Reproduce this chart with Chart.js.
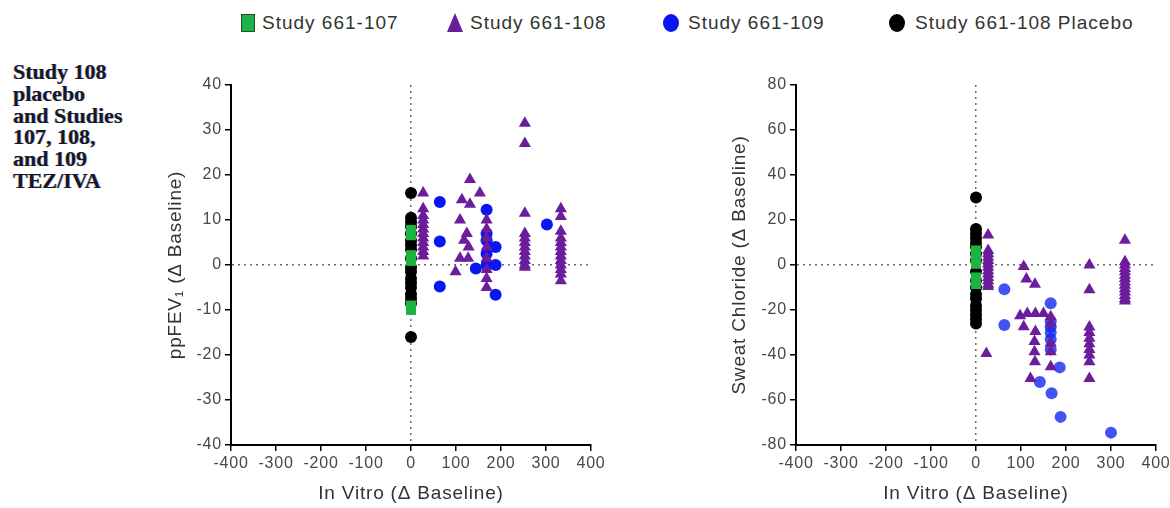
<!DOCTYPE html>
<html>
<head>
<meta charset="utf-8">
<script src="https://cdn.jsdelivr.net/npm/chart.js@4.4.0/dist/chart.umd.min.js"></script>
<style>
  html, body { margin: 0; padding: 0; background: #fff; }
  body { position: relative; width: 1170px; height: 508px; overflow: hidden;
         font-family: "Liberation Sans", Arial, sans-serif; }
  #note { position: absolute; left: 13px; top: 61px; margin: 0;
          font: bold 22px/21.8px "Liberation Serif", "Times New Roman", serif; color: #15152b;
          text-shadow: -0.7px 0 rgba(200,160,0,.45), 0.7px 0 rgba(0,70,230,.45); }
  .lg-text { position: absolute; top: 12px; font-size: 19px; line-height: 22px;
             letter-spacing: 1px; color: #333; white-space: nowrap; }
  .lg-mark { position: absolute; }
  canvas { position: absolute; }
</style>
</head>
<body>
<div id="note">Study 108<br>placebo<br>and Studies<br>107, 108,<br>and 109<br>TEZ/IVA</div>

<div class="lg-mark" style="left:241px;top:14px;width:12px;height:16px;background:#1db14a;border:1px solid #2a4a2a;"></div>
<div class="lg-text" style="left:262px;">Study 661-107</div>
<div class="lg-mark" style="left:447px;top:13px;width:16px;height:19px;background:#6c1d9b;clip-path:polygon(50% 0,100% 100%,0 100%);"></div>
<div class="lg-text" style="left:470px;">Study 661-108</div>
<div class="lg-mark" style="left:663px;top:14px;width:16px;height:18px;background:#0a14f0;border-radius:50%;"></div>
<div class="lg-text" style="left:688px;">Study 661-109</div>
<div class="lg-mark" style="left:889px;top:14px;width:16px;height:18px;background:#000;border-radius:50%;"></div>
<div class="lg-text" style="left:915px;">Study 661-108 Placebo</div>

<canvas id="fev" width="490" height="448" style="left:130px;top:60px;width:490px;height:448px;"></canvas>
<canvas id="swc" width="500" height="448" style="left:690px;top:60px;width:500px;height:448px;"></canvas>

<script>
// Axis tick values
const inVitroTicks = [-400, -300, -200, -100, 0, 100, 200, 300, 400];
const fevTicks = [-40, -30, -20, -10, 0, 10, 20, 30, 40];
const chlorideTicks = [-80, -60, -40, -20, 0, 20, 40, 60, 80];

// ppFEV1 change vs in vitro change, [in vitro, ppFEV1]
const fevStudy107 = [[0, 7.8], [0, 6.6], [0, 2.2], [0, 0.9], [0, -9], [0, -10]];
const fevStudy108 = [
  [27, 16], [27, 12.5], [27, 11], [27, 10], [27, 9], [27, 8], [27, 7], [27, 6], [27, 5], [27, 4], [27, 3], [27, 2],
  [99, -1.5], [109, 10], [109, 1.5], [113, 14.5], [118, 5.5], [124, 7], [127, 1.5], [128, 4], [131, 19], [131, 13.5], [153, 16],
  [168, 10], [168, 8], [168, 6], [168, 4], [168, 1.5], [168, -1], [168, -3], [168, -5],
  [253, 31.5], [253, 27], [253, 11.5], [253, 7], [253, 6], [253, 5], [253, 4], [253, 3], [253, 2], [253, 1], [253, 0], [253, -0.5],
  [333, 12.5], [333, 10.8], [333, 7.5], [333, 6], [333, 5], [333, 4], [333, 3], [333, 2], [333, 1], [333, 0], [333, -1], [333, -2], [333, -3.5]
];
const fevStudy109 = [
  [64, 14], [64, 5.2], [64, -4.8], [144, -0.8], [168, 12.3], [168, 7], [168, 5.5], [168, 2.5], [168, 0],
  [188, 4], [188, 0], [188, -6.6], [302, 9]
];
const fevPlacebo = [
  [0, 16], [0, 10.5], [0, 9.5], [0, 8.5], [0, 7], [0, 5.5], [0, 4.5], [0, 3.5], [0, 1.5], [0, -0.5],
  [0, -1.5], [0, -3], [0, -4], [0, -5], [0, -6.5], [0, -7.5], [0, -8.5], [0, -16]
];

// Sweat chloride change vs in vitro change, [in vitro, sweat chloride]
const swcStudy107 = [[0, 6.5], [0, 3.5], [0, 0.5], [0, -5.5], [0, -8.5]];
const swcStudy108 = [
  [27, 13.3], [27, 6.5], [27, 5], [27, 3.5], [27, 2], [27, 0.5], [27, -1], [27, -2.5], [27, -4], [27, -5.5], [27, -7], [27, -8.5], [27, -9.5],
  [23, -39.3],
  [106, -0.7], [112, -6.2], [131, -8.6], [98, -22.5], [114, -21.5], [132, -21.5], [150, -21.5], [106, -27.4],
  [132, -29.6], [130, -34], [130, -38.5], [131, -43], [121, -50.4],
  [166, -23], [166, -26], [166, -34.7], [166, -38.5], [166, -45.2],
  [252, 0], [252, -11], [252, -27.5], [252, -30], [252, -32.5], [252, -35], [252, -37.5], [252, -40], [252, -43], [252, -50.4],
  [331, 11], [331, 1.5], [331, 0], [331, -1.5], [331, -3], [331, -4.5], [331, -6], [331, -7.5], [331, -9], [331, -10.5],
  [331, -12], [331, -13.5], [331, -15], [331, -16]
];
const swcStudy109 = [
  [63, -10.8], [63, -26.7], [166, -17], [166, -25], [166, -27.5], [166, -30], [166, -33], [166, -37.5],
  [186, -45.5], [142, -52], [168, -57], [188, -67.5], [300, -74.5]
];
const swcPlacebo = [
  [0, 30], [0, 16], [0, 14], [0, 12], [0, 10], [0, 8], [0, 5], [0, 2], [0, -3], [0, -7], [0, -10],
  [0, -13], [0, -15], [0, -18], [0, -20], [0, -22], [0, -24], [0, -26]
];

const toPoints = rows => rows.map(([x, y]) => ({ x, y }));

// canvas letter spacing (reset whenever the canvas state is)
const spacing = {
  id: 'spacing',
  beforeUpdate(chart) { chart.ctx.letterSpacing = '0.8px'; },
  beforeDraw(chart) { chart.ctx.letterSpacing = '0.8px'; }
};

function datasets(s107, s108, s109, placebo, blue) {
  return [
    { label: 'Study 661-107', data: toPoints(s107), pointStyle: 'rect', pointRadius: 7,
      backgroundColor: '#1db33f', borderColor: '#1db33f', borderWidth: 0 },
    { label: 'Study 661-108', data: toPoints(s108), pointStyle: 'triangle', pointRadius: 7,
      backgroundColor: '#6c1d9b', borderColor: '#6c1d9b', borderWidth: 0 },
    { label: 'Study 661-109', data: toPoints(s109), pointStyle: 'circle', pointRadius: 6,
      backgroundColor: blue, borderColor: blue, borderWidth: 0 },
    { label: 'Study 661-108 Placebo', data: toPoints(placebo), pointStyle: 'circle', pointRadius: 6,
      backgroundColor: '#000', borderColor: '#000', borderWidth: 0 }
  ];
}

function zeroGrid() {
  return {
    color: ctx => (ctx.tick && ctx.tick.value === 0) ? '#6a6a6a' : 'rgba(0,0,0,0)',
    lineWidth: 1.5,
    tickColor: '#000',
    tickWidth: 1.5,
    tickLength: 6,
    drawTicks: true
  };
}

function makeChart(id, data, yTicks, yTitle, yTitleOffset, yWidth, padRight) {
  const yMin = yTicks[0], yMax = yTicks[yTicks.length - 1];
  return new Chart(document.getElementById(id), {
    type: 'scatter',
    data: { datasets: data },
    plugins: [spacing],
    options: {
      responsive: false,
      animation: false,
      layout: { padding: { top: 25, right: padRight, left: 0, bottom: 0 } },
      plugins: { legend: { display: false }, tooltip: { enabled: false } },
      scales: {
        x: {
          type: 'linear', min: -400, max: 400,
          afterBuildTicks: s => { s.ticks = inVitroTicks.map(v => ({ value: v })); },
          afterFit: s => { s.height = 63; },
          grid: zeroGrid(),
          border: { display: true, color: '#000', width: 2, dash: [2, 4] },
          ticks: { autoSkip: false, maxRotation: 0, padding: 3, color: '#484848',
                   font: { family: '"Liberation Sans", Arial, sans-serif', size: 16 } },
          title: { display: true, text: 'In Vitro (Δ Baseline)', color: '#333',
                   padding: { top: 0, bottom: 3 },
                   font: { family: '"Liberation Sans", Arial, sans-serif', size: 19 } }
        },
        y: {
          type: 'linear', min: yMin, max: yMax,
          afterBuildTicks: s => { s.ticks = yTicks.map(v => ({ value: v })); },
          afterFit: s => { s.width = yWidth; },
          grid: zeroGrid(),
          border: { display: true, color: '#000', width: 2, dash: [2, 4] },
          ticks: { padding: 3, color: '#484848',
                   font: { family: '"Liberation Sans", Arial, sans-serif', size: 16 } },
          title: { display: true, text: yTitle, color: '#333',
                   padding: { top: yTitleOffset, bottom: 0 },
                   font: { family: '"Liberation Sans", Arial, sans-serif', size: 19 } }
        }
      }
    }
  });
}

makeChart('fev', datasets(fevStudy107, fevStudy108, fevStudy109, fevPlacebo, '#0a14f5'),
          fevTicks, 'ppFEV\u2081 (Δ Baseline)', 34, 101, 29);
makeChart('swc', datasets(swcStudy107, swcStudy108, swcStudy109, swcPlacebo, 'rgba(20,40,240,0.8)'),
          chlorideTicks, 'Sweat Chloride (Δ Baseline)', 38, 106, 34);
</script>
</body>
</html>
